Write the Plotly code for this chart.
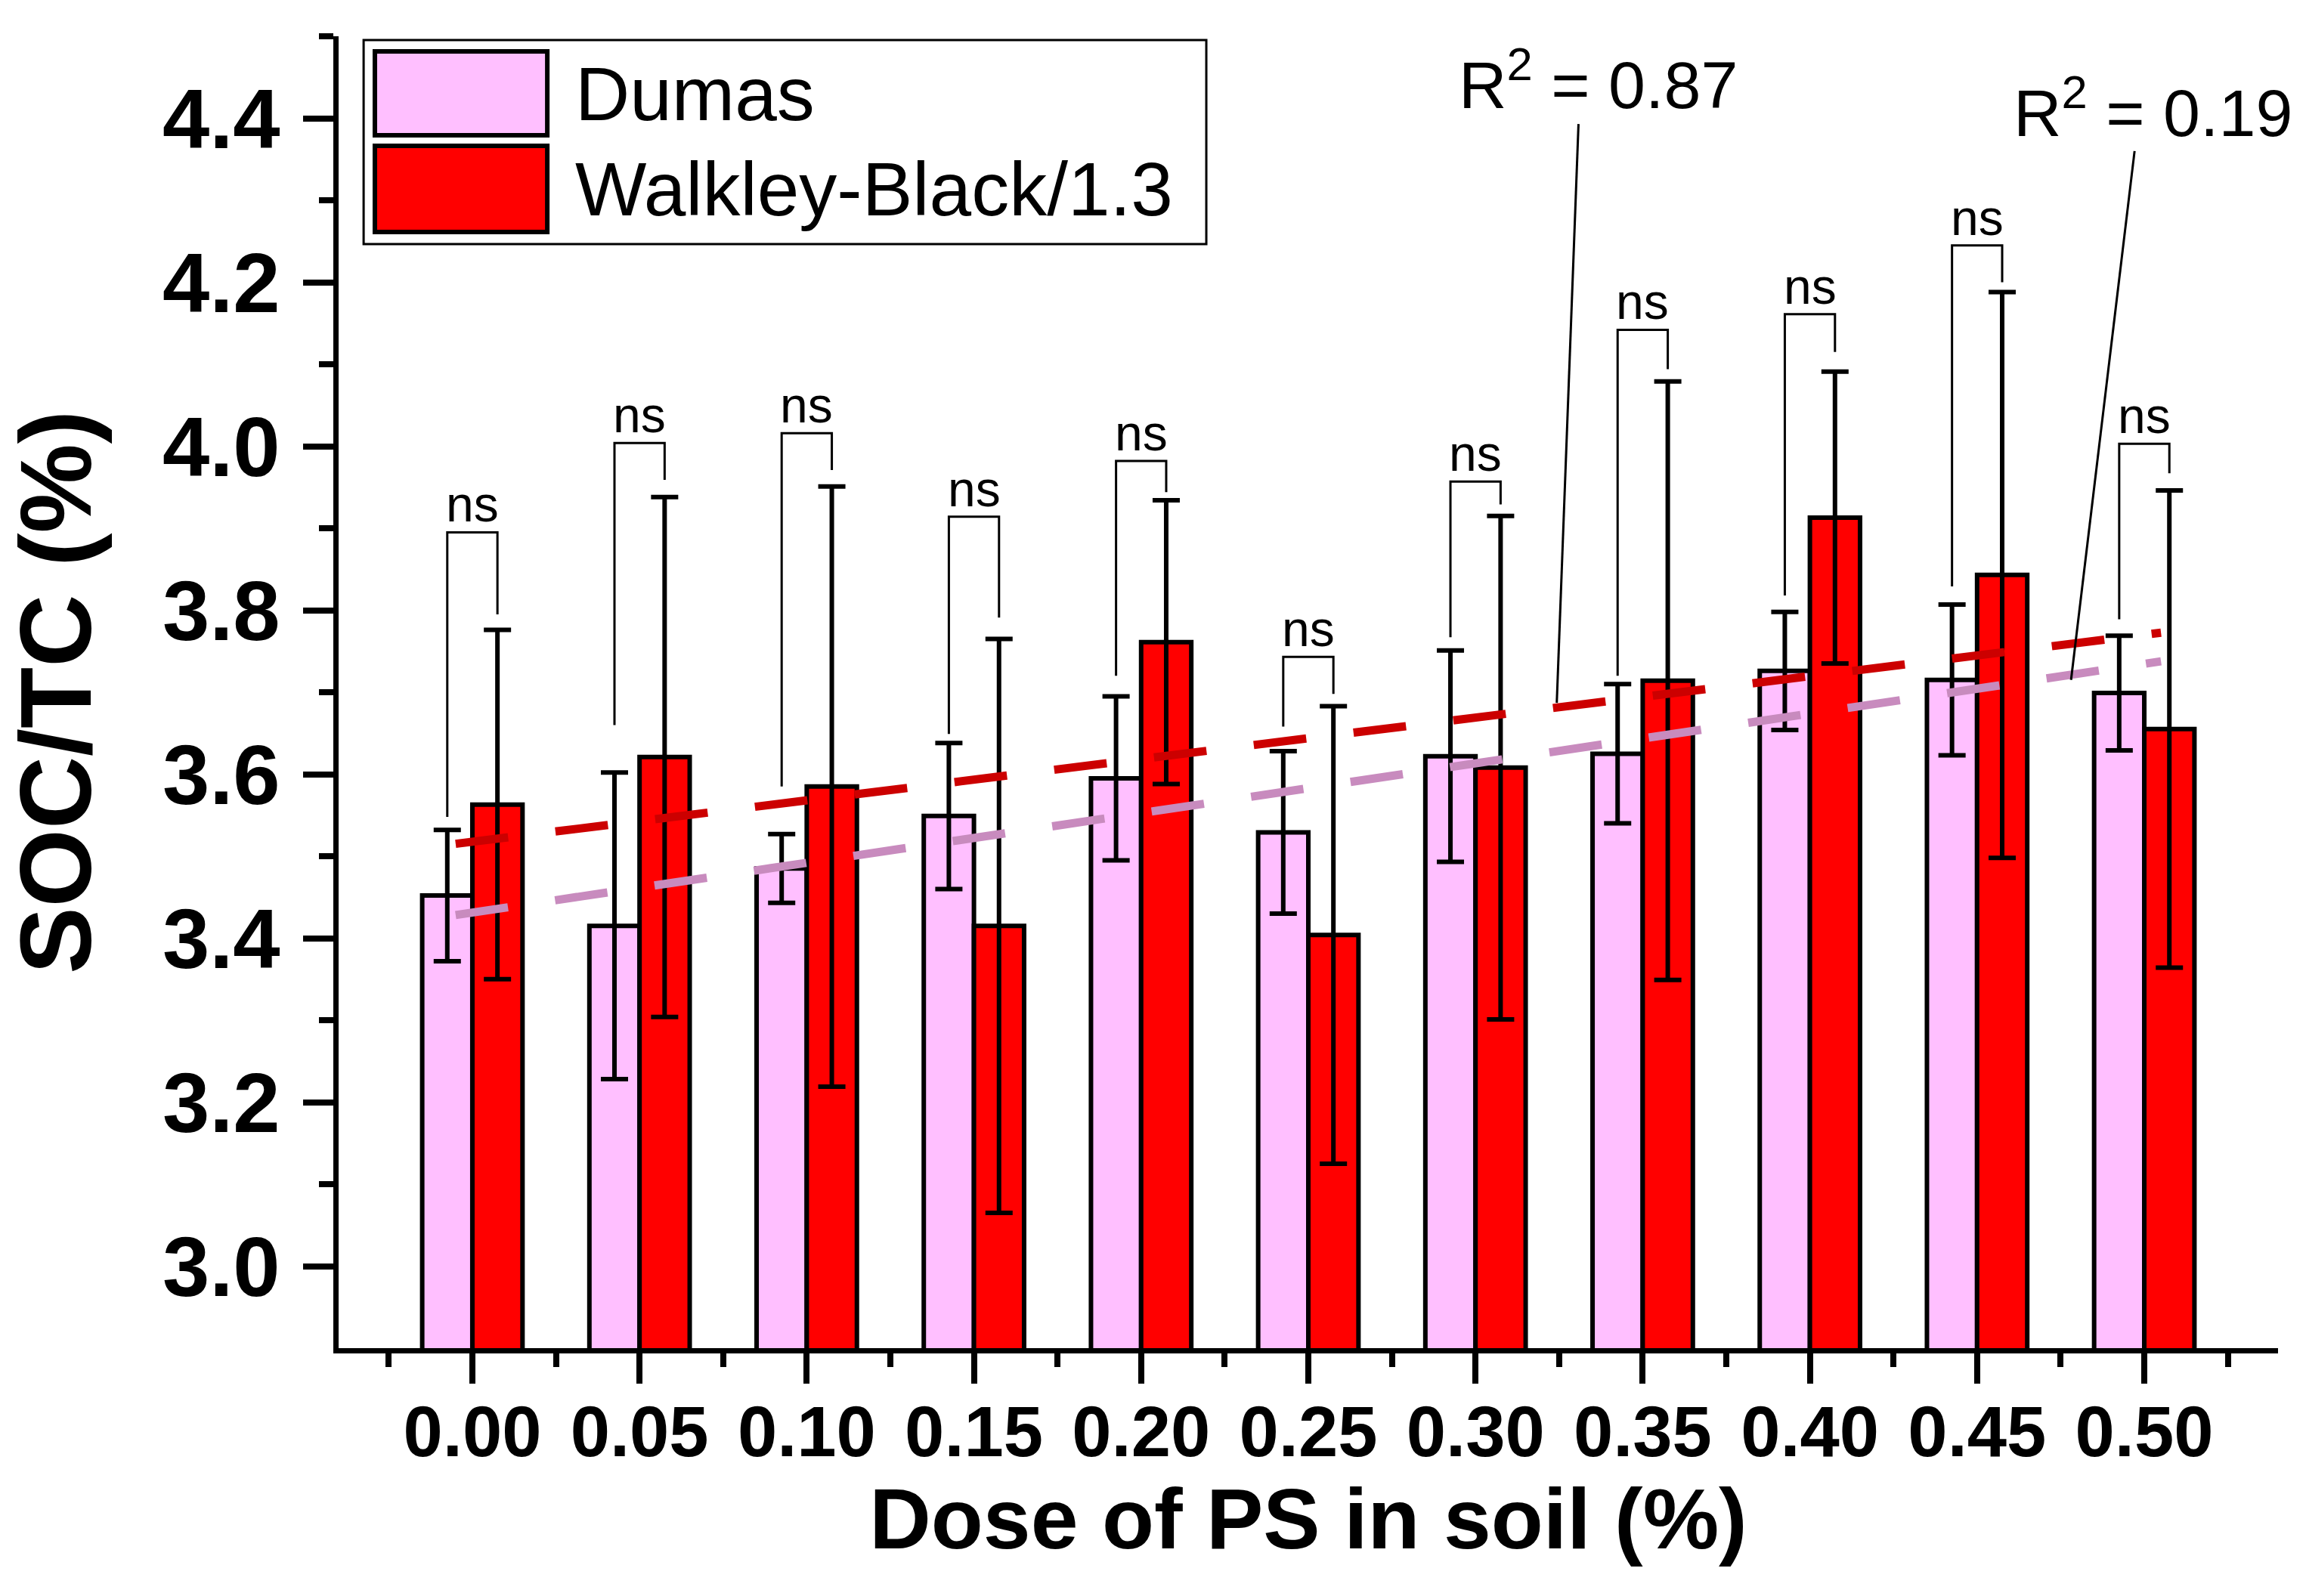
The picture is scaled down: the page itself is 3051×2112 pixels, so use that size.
import numpy as np
import plotly.graph_objects as go

# ---------------- data ----------------
doses = [0.00, 0.05, 0.10, 0.15, 0.20, 0.25, 0.30, 0.35, 0.40, 0.45, 0.50]
dumas = [3.452, 3.415, 3.485, 3.549, 3.595, 3.529, 3.622, 3.625, 3.726, 3.715, 3.699]
dumas_err = [0.080, 0.187, 0.042, 0.089, 0.100, 0.099, 0.129, 0.085, 0.072, 0.092, 0.070]
wb = [3.563, 3.621, 3.585, 3.415, 3.761, 3.404, 3.608, 3.714, 3.913, 3.843, 3.655]
wb_err = [0.213, 0.317, 0.366, 0.350, 0.173, 0.279, 0.307, 0.365, 0.178, 0.345, 0.291]

# significance brackets ("ns") : top of bracket, end of left leg, end of right leg
bracket_top = [3.895, 4.004, 4.016, 3.914, 3.982, 3.743, 3.957, 4.142, 4.161, 4.245, 4.003]
left_leg_end = [3.548, 3.660, 3.585, 3.649, 3.720, 3.658, 3.767, 3.720, 3.818, 3.829, 3.789]
right_leg_end = [3.795, 3.959, 3.971, 3.791, 3.944, 3.698, 3.929, 4.094, 4.115, 4.200, 3.967]
sig_labels = ["ns"] * 11

# R² labels: text position and pointer line (start, end)
r2_texts = ["R<sup>2</sup> = 0.87", "R<sup>2</sup> = 0.19"]
r2_text_x = [0.3367, 0.5025]
r2_text_y = [4.447, 4.412]
r2_line_start = [(0.3308, 4.393), (0.4971, 4.360)]
r2_line_end = [(0.3243, 3.687), (0.4781, 3.715)]

series_names = ["Dumas", "Walkley-Black/1.3"]
bar_colors = ["#FFBFFF", "#FF0000"]
trend_colors = ["#C88BBE", "#CC0000"]

FONT = "Liberation Sans, Arial, Helvetica, sans-serif"
BAR_W = 0.015

fig = go.Figure()

# ---------------- bars ----------------
for name, vals, errs, col in [(series_names[0], dumas, dumas_err, bar_colors[0]),
                              (series_names[1], wb, wb_err, bar_colors[1])]:
    fig.add_trace(go.Bar(
        x=doses, y=vals, name=name,
        marker=dict(color=col, line=dict(color="black", width=6)),
        error_y=dict(type="data", array=errs, visible=True,
                     color="black", thickness=6, width=18),
        showlegend=False,
    ))

# ---------------- linear trend lines ----------------
xd = np.array(doses)
x_fit = np.array([xd.min() - 0.005, xd.max() + 0.005])
for vals, col in [(dumas, trend_colors[0]), (wb, trend_colors[1])]:
    k, b = np.polyfit(xd, np.array(vals), 1)
    fig.add_trace(go.Scatter(
        x=x_fit, y=k * x_fit + b, mode="lines",
        line=dict(color=col, width=11, dash="70px,63px"),
        showlegend=False, hoverinfo="skip",
    ))

shapes = []
annotations = []

# ---------------- significance brackets ----------------
for d, top, l_end, r_end, lab in zip(doses, bracket_top, left_leg_end, right_leg_end, sig_labels):
    xl = d - BAR_W / 2
    xr = d + BAR_W / 2
    shapes.append(dict(
        type="path", xref="x", yref="y",
        path=f"M {xl},{l_end} L {xl},{top} L {xr},{top} L {xr},{r_end}",
        line=dict(color="black", width=3), layer="above",
    ))
    annotations.append(dict(
        x=d, y=top, xref="x", yref="y", text=lab, showarrow=False,
        yanchor="bottom", xanchor="center", yshift=-2,
        font=dict(family=FONT, size=66, color="black"),
    ))

# ---------------- R² labels ----------------
for t, tx, ty, (sx, sy), (ex, ey) in zip(r2_texts, r2_text_x, r2_text_y, r2_line_start, r2_line_end):
    annotations.append(dict(
        x=tx, y=ty, xref="x", yref="y", text=t, showarrow=False,
        xanchor="center", yanchor="middle",
        font=dict(family=FONT, size=88, color="black"),
    ))
    shapes.append(dict(
        type="line", xref="x", yref="y", x0=sx, y0=sy, x1=ex, y1=ey,
        line=dict(color="black", width=3), layer="above",
    ))

# ---------------- custom legend (large swatches) ----------------
shapes.append(dict(type="rect", xref="paper", yref="paper",
                   x0=0.0129, x1=0.4474, y0=0.8416, y1=0.9971,
                   line=dict(color="black", width=3), fillcolor="white", layer="above"))
legend_rows = [(0.9885, 0.9245), (0.9165, 0.8508)]
for (y1, y0), col, name in zip(legend_rows, bar_colors, series_names):
    shapes.append(dict(type="rect", xref="paper", yref="paper",
                       x0=0.0187, x1=0.1076, y0=y0, y1=y1,
                       line=dict(color="black", width=6), fillcolor=col, layer="above"))
    annotations.append(dict(
        x=0.1212, y=(y0 + y1) / 2, xref="paper", yref="paper", text=name,
        showarrow=False, xanchor="left", yanchor="middle",
        font=dict(family=FONT, size=100, color="black"),
    ))

fig.update_layout(
    width=3051, height=2112,
    margin=dict(l=448, r=37, t=48, b=328),
    paper_bgcolor="white", plot_bgcolor="white",
    barmode="group", bargap=0.4, bargroupgap=0,
    shapes=shapes, annotations=annotations,
    font=dict(family=FONT, color="black"),
)

fig.update_xaxes(
    range=[-0.04, 0.54], tick0=0, dtick=0.05, tickformat=".2f",
    showgrid=False, zeroline=False,
    showline=True, linecolor="black", linewidth=7,
    ticks="outside", ticklen=40, tickwidth=8, tickcolor="black",
    minor=dict(dtick=0.025, tick0=0, ticks="outside", ticklen=18, tickwidth=8, tickcolor="black"),
    tickfont=dict(family=FONT, size=94, color="black", weight="bold"),
    ticklabelstandoff=-17,
    title=dict(text="Dose of PS in soil (%)", standoff=25,
               font=dict(family=FONT, size=113, color="black", weight="bold")),
)
fig.update_yaxes(
    range=[2.9, 4.5], tickvals=[3.0, 3.2, 3.4, 3.6, 3.8, 4.0, 4.2, 4.4], tickformat=".1f",
    showgrid=False, zeroline=False,
    showline=True, linecolor="black", linewidth=7,
    ticks="outside", ticklen=40, tickwidth=8, tickcolor="black",
    minor=dict(tickvals=[3.1, 3.3, 3.5, 3.7, 3.9, 4.1, 4.3, 4.5], ticks="outside",
               ticklen=19, tickwidth=8, tickcolor="black"),
    tickfont=dict(family=FONT, size=112, color="black", weight="bold"),
    ticklabelstandoff=8,
    title=dict(text="SOC/TC (%)", standoff=62,
               font=dict(family=FONT, size=133, color="black", weight="bold")),
)

fig.write_html("out.html")
